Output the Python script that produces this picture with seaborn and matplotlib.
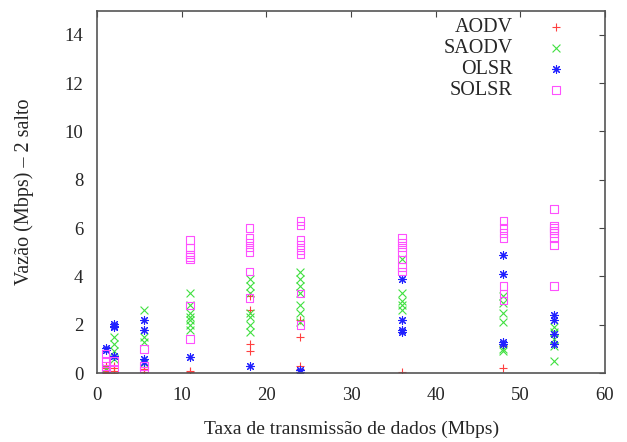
import matplotlib
matplotlib.use("Agg")
import matplotlib.pyplot as plt
import seaborn as sns
import pandas as pd

# x positions (Mbps) and per-series values
aodv_x = [1, 1, 1, 1, 1, 2, 2, 2, 2, 5.5, 5.5, 5.5, 11, 11, 18, 18, 18, 18, 24, 24, 24, 24, 36, 48, 48]
aodv_y = [0.0, 0.1, 0.2, 0.3, 0.05, 0.0, 0.1, 0.2, 0.3, 0.05, 0.15, 0.25, 0.05, 0.1, 3.2, 2.6, 1.2, 0.9, 2.2, 1.5, 0.3, 0.15, 0.05, 0.2, 1.1]

saodv_x = [1, 2, 2, 2, 2, 5.5, 5.5, 5.5, 5.5, 11, 11, 11, 11, 11, 11, 11, 18, 18, 18, 18, 18, 18, 18,
           24, 24, 24, 24, 24, 24, 24, 36, 36, 36, 36, 36, 48, 48, 48, 48, 48, 48, 54, 54, 54, 54, 54]
saodv_y = [0.2, 1.5, 1.2, 0.9, 0.6, 2.6, 1.5, 1.3, 0.4, 3.3, 2.8, 2.5, 2.3, 2.2, 2.0, 1.8, 3.9, 3.6, 3.3, 2.5, 2.3, 2.0, 1.7,
           4.2, 3.9, 3.6, 3.3, 2.8, 2.5, 2.1, 4.7, 3.3, 3.0, 2.8, 2.6, 3.2, 2.9, 2.5, 2.1, 1.0, 0.9, 1.9, 1.7, 1.4, 1.1, 0.5]

olsr_x = [1, 1, 2, 2, 2, 2, 5.5, 5.5, 5.5, 5.5, 11, 18, 24, 24, 36, 36, 36, 36, 48, 48, 48, 48, 54, 54, 54, 54]
olsr_y = [1.05, 0.95, 2.05, 1.95, 1.9, 0.7, 2.2, 1.8, 0.6, 0.45, 0.65, 0.3, 0.05, 0.12, 3.9, 2.2, 1.8, 1.7, 4.9, 4.1, 1.3, 1.2, 2.4, 2.2, 1.6, 1.2]

solsr_x = [1, 1, 1, 1, 2, 2, 5.5, 5.5, 5.5, 11, 11, 11, 11, 11, 11, 11, 18, 18, 18, 18, 18, 18, 18,
           24, 24, 24, 24, 24, 24, 24, 24, 36, 36, 36, 36, 36, 36, 36, 48, 48, 48, 48, 48, 48, 48,
           54, 54, 54, 54, 54, 54, 54, 54]
solsr_y = [0.8, 0.5, 0.3, 0.1, 0.5, 0.15, 1.0, 0.3, 0.1, 5.5, 5.2, 4.9, 4.8, 4.7, 2.8, 1.4, 6.0, 5.6, 5.4, 5.2, 5.0, 4.2, 3.1,
           6.3, 6.1, 5.5, 5.3, 5.1, 4.9, 3.3, 2.0, 5.6, 5.4, 5.2, 5.0, 4.7, 4.4, 4.2, 6.3, 6.0, 5.8, 5.6, 3.6, 3.3, 3.0,
           6.8, 6.1, 6.0, 5.9, 5.8, 5.6, 5.3, 3.6]

labels = ["AODV", "SAODV", "OLSR", "SOLSR"]
xlabel = "Taxa de transmissão de dados (Mbps)"
ylabel = "Vazão (Mbps) – 2 salto"
xticks = [0, 10, 20, 30, 40, 50, 60]
yticks = [0, 2, 4, 6, 8, 10, 12, 14]

sns.set_theme(style="white")
plt.rcParams["font.family"] = ["Liberation Serif", "DejaVu Serif"]

fig = plt.figure(figsize=(6.27, 4.42), dpi=100)
ax = fig.add_axes([0.155, 0.156, 0.81, 0.82])

series = [
    (aodv_x, aodv_y, "#ff4040", "+", dict(s=32, linewidth=0.8)),
    (saodv_x, saodv_y, "#40e040", "x", dict(s=32, linewidth=0.8)),
    (olsr_x, olsr_y, "#2020ff", (8, 2, 0), dict(s=32, linewidth=0.8)),
    (solsr_x, solsr_y, "#ff50ff", "s", dict(s=30, linewidth=0.8, facecolor="none")),
]
for (xs, ys, col, mk, kw), lab in zip(series, labels):
    df = pd.DataFrame({"x": xs, "y": ys})
    if mk == "s":
        sns.scatterplot(data=df, x="x", y="y", ax=ax, marker=mk, edgecolor=col,
                        label=lab, **kw)
    else:
        sns.scatterplot(data=df, x="x", y="y", ax=ax, marker=mk, color=col,
                        label=lab, **kw)

ax.set_xlim(0, 60)
ax.set_ylim(0, 15)
ax.set_xticks(xticks)
ax.set_yticks(yticks)
ax.set_xlabel(xlabel, fontsize=14, labelpad=12)
ax.set_ylabel(ylabel, fontsize=14.5, labelpad=22)
ax.tick_params(direction="in", length=4, width=0.8, color="#444444",
               top=True, right=True, labelsize=13.5, pad=10)
for sp in ax.spines.values():
    sp.set_color("#555555")
    sp.set_linewidth(1.2)

leg = ax.legend(loc="upper right", bbox_to_anchor=(0.943, 0.98), markerfirst=False,
                frameon=False, fontsize=14.5, handletextpad=1.15, labelspacing=0.1,
                borderaxespad=0, borderpad=0, handlelength=2.0)

fig.savefig("out.png", dpi=100)
